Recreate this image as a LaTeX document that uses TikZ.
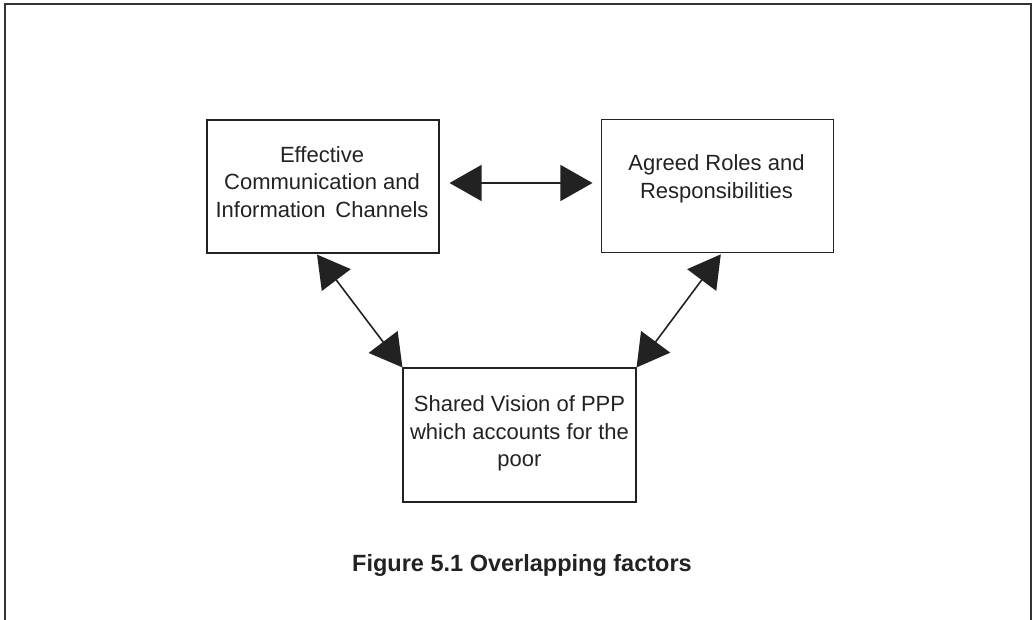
\documentclass[tikz,border=0pt]{standalone}
\usepackage{fontspec}
\setmainfont{Liberation Sans}
\usetikzlibrary{arrows.meta,calc}
\definecolor{ink}{HTML}{222222}
\begin{document}
\begin{tikzpicture}[x=1pt,y=-1pt,
  factor/.style={draw=ink, line width=1.1pt, rectangle, inner sep=0pt,
    minimum width=232pt, minimum height=133pt},
  boxtext/.style={align=center, text=ink, inner sep=0pt,
    font=\fontsize{22}{27.5}\selectfont},
  biarrow/.style={draw=ink, line width=1.6pt,
    {Triangle[length=32pt,width=36pt]}-{Triangle[length=32pt,width=36pt]}},
  frame/.style={draw=black!80, line width=1.6pt}]
\useasboundingbox (0,0) rectangle (1032,620);

% outer frame, open at the bottom
\draw[frame] (5,620) -- (5,4) -- (1031,4) -- (1031,620);

% the three factors
\node[factor] (comm) at (323,186.5) {};
\node[factor] (roles) at (717.5,186) {};
\node[factor, minimum height=134pt, minimum width=233pt] (vision) at (519.5,435) {};

\node[boxtext] at (322,182) {Effective\\Communication and\\Information\hspace{0.45em}Channels};
\node[boxtext] at (716.5,179) {Agreed Roles and\\Responsibilities};
\node[boxtext] at (519.5,433.5) {Shared Vision of PPP\\which accounts for the\\poor};

% two-way links between the factors
\draw[biarrow] ($(comm.east)+(10,-3.5)$) -- ($(roles.west)+(-8.5,-3)$);
\draw[biarrow] ($(comm.south)+(-6,1)$) -- (vision.north west);
\draw[biarrow] ($(roles.south)+(3.3,1.3)$) -- (vision.north east);

% caption
\node[text=ink, font=\fontsize{23.5}{27}\bfseries\selectfont, anchor=base] (cap) at (522,571)
  {Figure 5.1 Overlapping factors};
\end{tikzpicture}
\end{document}
